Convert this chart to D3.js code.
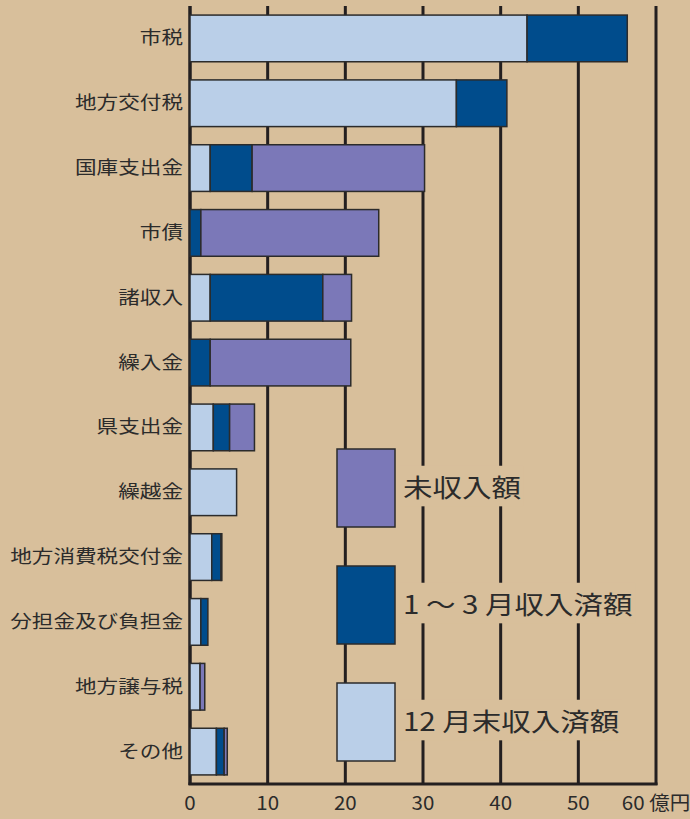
<!DOCTYPE html>
<html>
<head>
<meta charset="utf-8">
<script src="https://cdn.jsdelivr.net/npm/d3@7"></script>
<style>
  body { margin: 0; background: #d8bf9b; }
  text { font-family: "Noto Sans CJK JP", "Noto Sans", sans-serif; fill: #2b2b2b; }
</style>
</head>
<body>
<script>
var categories = ["市税", "地方交付税", "国庫支出金", "市債", "諸収入", "繰入金", "県支出金",
                  "繰越金", "地方消費税交付金", "分担金及び負担金", "地方譲与税", "その他"];
// 12月末収入済額
var dec = [43.4, 34.3, 2.6, 0, 2.6, 0, 3.0, 6.0, 2.8, 1.4, 1.3, 3.4];
// 1～3月収入済額
var janMar = [12.9, 6.5, 5.4, 1.4, 14.5, 2.6, 2.1, 0, 1.2, 0.9, 0, 1.0];
// 未収入額
var unpaid = [0, 0, 22.2, 22.9, 3.7, 18.1, 3.2, 0, 0.1, 0, 0.6, 0.4];
var ticks = [0, 10, 20, 30, 40, 50, 60];
var unit = "億円";

var seriesKeys = ["dec", "janMar", "unpaid"];
var seriesNames = ["12 月末収入済額", "1 ～ 3 月収入済額", "未収入額"];
var colors = {dec: "#bacfe8", janMar: "#004c8c", unpaid: "#7b78b8"};

var w = 690, h = 819;
var svg = d3.select("body").append("svg")
  .attr("width", w)
  .attr("height", h);

svg.append("rect").attr("width", w).attr("height", h).attr("fill", "#d8bf9b");

var x = d3.scaleLinear().domain([0, 60]).range([190, 656]);
var y = d3.scaleBand().domain(categories).range([6, 784])
  .paddingInner(0.28).paddingOuter(0.14);

var rows = categories.map(function(c, i) {
  return {cat: c, dec: dec[i], janMar: janMar[i], unpaid: unpaid[i]};
});
var stacked = d3.stack().keys(seriesKeys)(rows);

// grid lines
svg.selectAll("line.grid")
  .data(ticks)
  .enter()
  .append("line")
    .attr("class", "grid")
    .attr("x1", function(d) { return x(d); })
    .attr("x2", function(d) { return x(d); })
    .attr("y1", 6)
    .attr("y2", 785)
    .attr("stroke", "#231f20")
    .attr("stroke-width", function(d) { return d === 0 ? 3.5 : 3; });

svg.append("line")
  .attr("x1", x(0) - 1.5).attr("x2", x(60) + 1.5)
  .attr("y1", 784).attr("y2", 784)
  .attr("stroke", "#231f20")
  .attr("stroke-width", 3);

// tick labels
svg.selectAll("text.tick")
  .data(ticks)
  .enter()
  .append("text")
    .attr("class", "tick")
    .attr("transform", function(d) { return "translate(" + x(d) + ",810) scale(1.08,1)"; })
    .attr("text-anchor", "middle")
    .style("font-size", "19px")
    .text(function(d) { return d === 60 ? d + " " + unit : d; });

// bars
svg.selectAll("g.series")
  .data(stacked)
  .enter()
  .append("g")
    .attr("class", "series")
    .attr("fill", function(s) { return colors[s.key]; })
  .selectAll("rect")
  .data(function(s) { return s.filter(function(d) { return d[1] - d[0] > 0; }); })
  .enter()
  .append("rect")
    .attr("x", function(d) { return x(d[0]); })
    .attr("y", function(d) { return y(d.data.cat); })
    .attr("width", function(d) { return x(d[1]) - x(d[0]); })
    .attr("height", y.bandwidth())
    .attr("stroke", "#2b2b2b")
    .attr("stroke-width", 1.5);

// category labels
svg.selectAll("text.cat")
  .data(categories)
  .enter()
  .append("text")
    .attr("class", "cat")
    .attr("transform", function(d) {
      return "translate(183," + (y(d) + y.bandwidth() / 2 + 6) + ") scale(1.2,1)";
    })
    .attr("text-anchor", "end")
    .style("font-size", "18px")
    .text(function(d) { return d; });

// legend
var legendOrder = ["unpaid", "janMar", "dec"];
var legend = svg.selectAll("g.legend")
  .data(legendOrder)
  .enter()
  .append("g")
    .attr("class", "legend")
    .attr("transform", function(d, i) { return "translate(337," + (449 + i * 117) + ")"; });

legend.append("rect")
  .attr("width", 58)
  .attr("height", 78)
  .attr("fill", function(d) { return colors[d]; })
  .attr("stroke", "#2b2b2b")
  .attr("stroke-width", 1.5);

var sx = 1.18;
legend.each(function(d) {
  var g = d3.select(this);
  var bg = g.append("rect").attr("fill", "#d8bf9b");
  var t = g.append("text")
    .attr("transform", "translate(66,48) scale(" + sx + ",1)")
    .style("font-size", "25px")
    .text(seriesNames[seriesKeys.indexOf(d)]);
  var bb = t.node().getBBox();
  bg.attr("x", 66 - 3)
    .attr("y", 48 + bb.y - 2)
    .attr("width", bb.width * sx + 6)
    .attr("height", bb.height + 4);
});
</script>
</body>
</html>
